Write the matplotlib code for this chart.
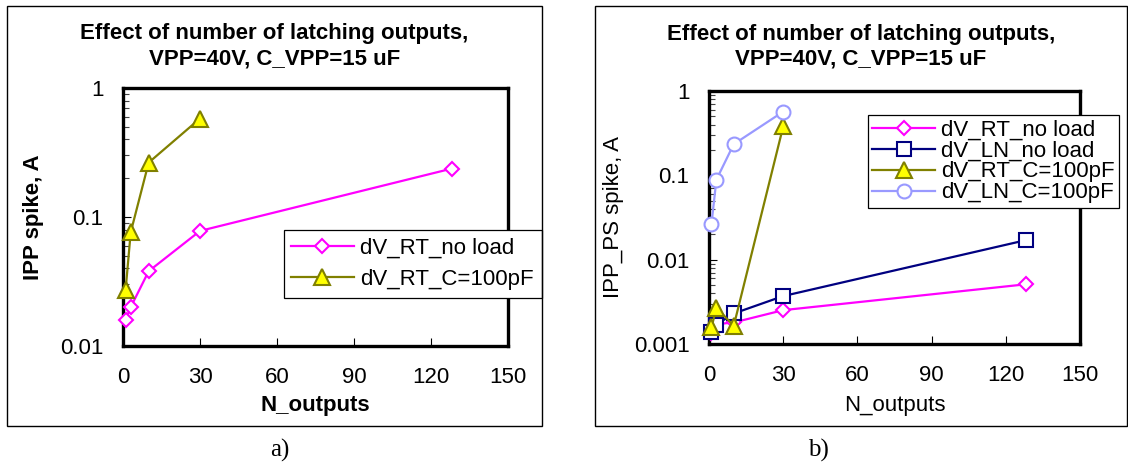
import matplotlib
matplotlib.use('Agg')
import matplotlib.pyplot as plt
from matplotlib.patches import Rectangle

plt.rcParams['font.family'] = ['Liberation Sans', 'DejaVu Sans']

# a) IPP spike vs number of latching outputs
n_a = [1, 3, 10, 30, 128]
rt_noload_a = [0.016, 0.020, 0.038, 0.078, 0.237]
n_a_c = [1, 3, 10, 30]
rt_c100_a = [0.027, 0.076, 0.264, 0.58]

# b) IPP_PS spike vs number of latching outputs
n_b = [1, 3, 10, 30, 128]
rt_noload_b = [0.00134, 0.00172, 0.0018, 0.00252, 0.0051]
ln_noload_b = [0.00137, 0.0017, 0.0023, 0.0037, 0.017]
n_b_c = [1, 3, 10, 30]
rt_c100_b = [0.00157, 0.0027, 0.00164, 0.38]
ln_c100_b = [0.0266, 0.089, 0.234, 0.569]

x_ticks = [0, 30, 60, 90, 120, 150]
y_ticks_a = [0.01, 0.1, 1]
y_labels_a = ['0.01', '0.1', '1']
y_ticks_b = [0.001, 0.01, 0.1, 1]
y_labels_b = ['0.001', '0.01', '0.1', '1']

title = 'Effect of number of latching outputs,\nVPP=40V, C_VPP=15 uF'

W, H = 1128, 472
FS = 16

fig = plt.figure(figsize=(W / 100, H / 100), dpi=100)


def px(x0, y0, x1, y1):
    """pixel box (top-left origin) -> figure fraction rect"""
    return [x0 / W, 1 - y1 / H, (x1 - x0) / W, (y1 - y0) / H]


def style_axes(ax, yticks, ylabels):
    ax.set_yscale('log')
    ax.set_xlim(0, 150)
    ax.set_ylim(yticks[0], yticks[-1])
    ax.set_xticks(x_ticks)
    ax.set_yticks(yticks)
    ax.set_yticklabels(ylabels)
    for side in ['top', 'right', 'bottom', 'left']:
        ax.spines[side].set_linewidth(2.4)
    ax.tick_params(axis='both', which='major', direction='in', length=6, width=0.8,
                   labelsize=FS, top=False, right=False)
    ax.tick_params(axis='x', pad=15)
    ax.tick_params(axis='y', pad=14)
    ax.tick_params(axis='y', which='minor', direction='in', length=4, width=0.8,
                   colors='#444444', right=False)


line_kw = dict(linewidth=1.6, markeredgewidth=1.5, clip_on=False, zorder=3)
leg_kw = dict(loc='upper left', bbox_transform=fig.transFigure, borderaxespad=0,
              fontsize=FS, fancybox=False, framealpha=1, edgecolor='black',
              numpoints=1, handlelength=2.8, handletextpad=0.3)

# ---- panel a) ----
ax1 = fig.add_axes(px(123, 88, 508, 346))
ax1.plot(n_a, rt_noload_a, color='#FF00FF', marker='D', markersize=7,
         markerfacecolor='white', label='dV_RT_no load', **line_kw)
ax1.plot(n_a_c, rt_c100_a, color='#808000', marker='^', markersize=11,
         markerfacecolor='#FFFF00', label='dV_RT_C=100pF', **line_kw)
style_axes(ax1, y_ticks_a, y_labels_a)
ax1.set_xlabel('N_outputs', fontsize=FS, fontweight='bold', va='center')
ax1.xaxis.set_label_coords(0.5, -59 / 258)
ax1.set_ylabel('IPP spike, A', fontsize=FS, fontweight='bold', va='center')
ax1.yaxis.set_label_coords(-(123 - 34) / 385, 0.5)
leg1 = ax1.legend(bbox_to_anchor=(283.5 / W, 1 - 230 / H), borderpad=0.35,
                  labelspacing=0.45, **leg_kw)
leg1.get_frame().set_linewidth(0.9)
leg1.set_zorder(5)

# ---- panel b) ----
ax2 = fig.add_axes(px(709, 91, 1080, 344))
ax2.plot(n_b, rt_noload_b, color='#FF00FF', marker='D', markersize=7,
         markerfacecolor='white', label='dV_RT_no load', **line_kw)
ax2.plot(n_b, ln_noload_b, color='#000080', marker='s', markersize=10,
         markerfacecolor='white', label='dV_LN_no load', **line_kw)
ax2.plot(n_b_c, rt_c100_b, color='#808000', marker='^', markersize=11,
         markerfacecolor='#FFFF00', label='dV_RT_C=100pF', **line_kw)
ax2.plot(n_b_c, ln_c100_b, color='#9999FF', marker='o', markersize=10,
         markerfacecolor='white', label='dV_LN_C=100pF', **line_kw)
style_axes(ax2, y_ticks_b, y_labels_b)
ax2.set_xlabel('N_outputs', fontsize=FS, va='center')
ax2.xaxis.set_label_coords(0.5, -61 / 253)
ax2.set_ylabel('IPP_PS spike, A', fontsize=FS, va='center')
ax2.yaxis.set_label_coords(-(709 - 613) / 371, 0.5)
leg2 = ax2.legend(bbox_to_anchor=(868 / W, 1 - 115 / H), borderpad=0.2,
                  labelspacing=0.0, **leg_kw)
leg2.get_frame().set_linewidth(0.9)
leg2.set_zorder(5)

# titles
fig.text(274.5 / W, 1 - 46 / H, title, ha='center', va='center', fontsize=FS,
         fontweight='bold', linespacing=1.25)
fig.text(861 / W, 1 - 47 / H, title, ha='center', va='center', fontsize=FS,
         fontweight='bold', linespacing=1.25)

# outer frames of the two charts
fig.add_artist(Rectangle((7 / W, 1 - 426 / H), 535 / W, 420 / H, transform=fig.transFigure,
                         fill=False, edgecolor='black', linewidth=1))
fig.add_artist(Rectangle((595 / W, 1 - 426 / H), 532 / W, 420 / H, transform=fig.transFigure,
                         fill=False, edgecolor='black', linewidth=1))

# panel captions
fig.text(280 / W, 1 - 450 / H, 'a)', ha='center', va='center', fontsize=18,
         family=['Liberation Serif', 'DejaVu Serif'])
fig.text(818 / W, 1 - 450 / H, 'b)', ha='center', va='center', fontsize=18,
         family=['Liberation Serif', 'DejaVu Serif'])

fig.savefig('out.png', dpi=100, facecolor='white')
